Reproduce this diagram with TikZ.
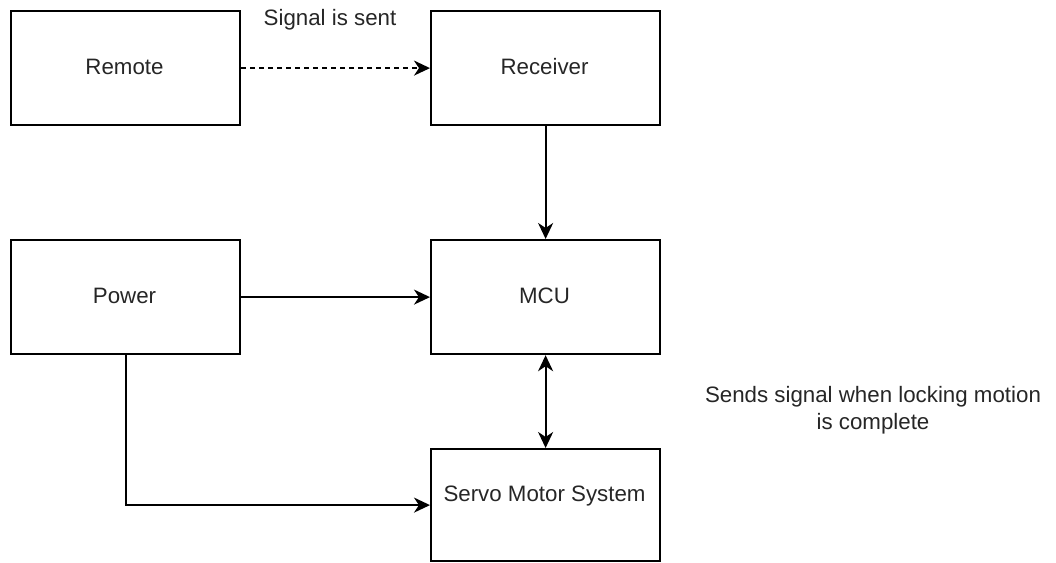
\documentclass[tikz,border=0pt]{standalone}
\usepackage{fontspec}
\setmainfont{Liberation Sans}
\usetikzlibrary{arrows.meta}
\begin{document}
\begin{tikzpicture}[x=1pt,y=-1pt,
  box/.style={draw=black,line width=2.2pt,minimum width=229pt,minimum height=114pt,inner sep=0pt,anchor=north west},
  lbl/.style={text=black!85,font=\fontsize{22.3}{27}\selectfont},
  conn/.style={draw=black,line width=2.2pt,-{Stealth[length=16pt,width=15pt,inset=5pt]}},
  dconn/.style={draw=black,line width=2.2pt,{Stealth[length=16pt,width=15pt,inset=5pt]}-{Stealth[length=16pt,width=15pt,inset=5pt]}}
]
\useasboundingbox (0,0) rectangle (1056,562);
\node[box] (remote) at (10,10) {};
\node[box] (receiver) at (430,10) {};
\node[box] (power) at (10,239) {};
\node[box] (mcu) at (430,239) {};
\node[box,minimum height=112pt] (servo) at (430,448) {};
\node[lbl] (tremote) at (124.5,67) {Remote};
\node[lbl] (treceiver) at (544.5,67) {Receiver};
\node[lbl] (tpower) at (124.5,296) {Power};
\node[lbl] (tmcu) at (544.5,296) {MCU};
\node[lbl] (tservo) at (544.5,496) {Servo Motor System};
\node[lbl] (tsent) at (330,20) {Signal is sent};
\node[lbl,align=center] (tsends) at (873,410) {Sends signal when locking motion\\is complete};
\coordinate (corner) at (power.south |- servo.west);
\draw[conn,dash pattern=on 5pt off 4pt] (remote.east) -- (receiver.west);
\draw[conn] (receiver.south) -- (mcu.north);
\draw[conn] (power.east) -- (mcu.west);
\draw[dconn] (mcu.south) -- (servo.north);
\draw[conn] (power.south) -- (corner) -- (servo.west);
\end{tikzpicture}
\end{document}
